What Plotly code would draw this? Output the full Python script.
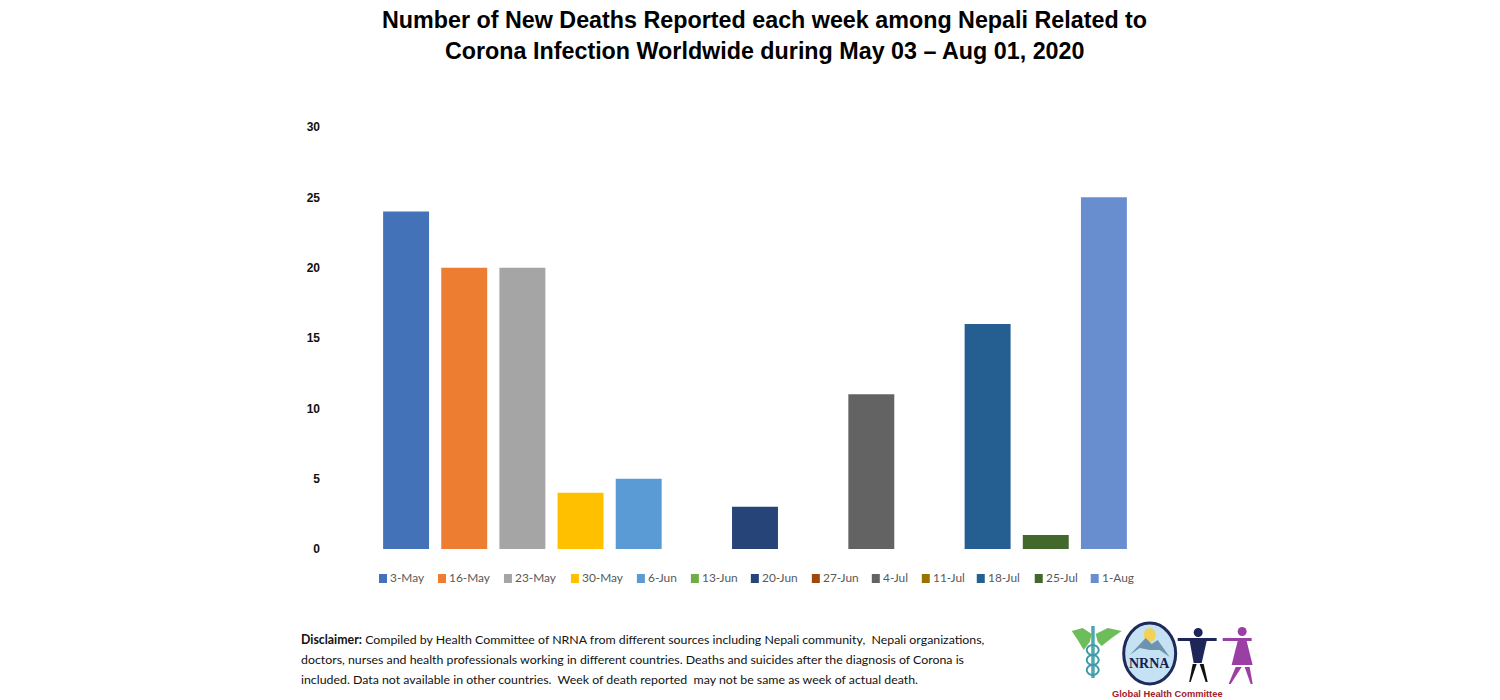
import plotly.graph_objects as go

dates = ["3-May","16-May","23-May","30-May","6-Jun","13-Jun","20-Jun","27-Jun","4-Jul","11-Jul","18-Jul","25-Jul","1-Aug"]
deaths = [24,20,20,4,5,0,3,0,11,0,16,1,25]
colors = ["#4472B8","#ED7D31","#A5A5A5","#FFC000","#5B9BD5","#70AD47","#264478","#9E480E","#636363","#997300","#255E91","#43682B","#698ED0"]
legend_swatch_x = [379,438,504,571,637,691,751,812,872,922,977,1035,1091]
y_ticks = [0,5,10,15,20,25,30]
title_lines = ["Number of New Deaths Reported each week among Nepali Related to",
               "Corona Infection Worldwide during May 03 – Aug 01, 2020"]
disclaimer = ["<b>Disclaimer:</b> Compiled by Health Committee of NRNA from different sources including Nepali community,  Nepali organizations,",
              "doctors, nurses and health professionals working in different countries. Deaths and suicides after the diagnosis of Corona is",
              "included. Data not available in other countries.  Week of death reported  may not be same as week of actual death."]

W, H = 1500, 700
OFF = 8  # page body margin
L, R, T, B = 377, 1133.3, 127, 549
px = lambda v: (v - L) / (R - L)
py = lambda v: (B - v) / (B - T)
LATO = "Lato, sans-serif"
ARIAL = "Liberation Sans, sans-serif"

fig = go.Figure()
for d, v, c in zip(dates, deaths, colors):
    fig.add_bar(x=[d], y=[v], name=d, marker=dict(color=c, line_width=0), width=0.79, showlegend=False)

ann = []
shapes = []
def text(t, x, y, font, size, color, anchor="left"):
    ann.append(dict(text=t, xref="paper", yref="paper", x=px(x), y=py(y), xanchor=anchor, yanchor="middle",
                    showarrow=False, font=dict(family=font, size=size, color=color)))

for t, c, sx in zip(dates, colors, legend_swatch_x):
    shapes.append(dict(type="rect", xref="paper", yref="paper", x0=px(sx), x1=px(sx+8),
                       y0=py(583), y1=py(574), fillcolor=c, line_width=0))
    text(t, sx+9.5, 577.5, LATO, 11.9, "#595959")
for i, l in enumerate(title_lines):
    text(f"<b>{l}</b>", 765, 20+31*i, ARIAL, 23.3, "#000", "center")
for i, l in enumerate(disclaimer):
    text(l, 298.5, 639.5+20*i, LATO, 12.35, "#111")

def circle(x0,y0,x1,y1,fill,line=None,w=0):
    shapes.append(dict(type="circle",xref="paper",yref="paper",x0=px(x0),x1=px(x1),y0=py(y1),y1=py(y0),
                       fillcolor=fill,line=dict(color=line or fill,width=w)))
def poly(pts,fill):
    p="M"+"L".join(f"{px(x):.5f},{py(y):.5f}" for x,y in pts)+"Z"
    shapes.append(dict(type="path",xref="paper",yref="paper",path=p,fillcolor=fill,line_width=0))
# caduceus
poly([(1072,631),(1083,628),(1092,634),(1090,642),(1084,650),(1078,640)],"#6DBE5A")
poly([(1122,631),(1108,628),(1096,634),(1098,642),(1102,646),(1112,638)],"#6DBE5A")
poly([(1091.5,626),(1095,626),(1095,678),(1091.5,678)],"#4FA6B5")
for y in (650,660,670):
    circle(1087,y-5,1099,y+5,"rgba(0,0,0,0)","#3E9BA8",2)
# NRNA emblem
circle(1124,623,1176,684,"#C4E2F3","#1F2A5A",3)
circle(1144,628,1156,642,"#F2D255")
poly([(1130,655),(1146,638),(1152,644),(1158,640),(1170,657),(1160,650),(1150,650),(1140,648)],"#6E93AE")
text("<b>NRNA</b>", 1150, 663, "Liberation Serif, serif", 14, "#14204E", "center")
# male figure
circle(1194,628,1203,637,"#1E2558")
poly([(1178,638),(1217,638),(1217,641),(1178,641)],"#1E2558")
poly([(1190,641),(1207,641),(1202,663),(1194,663)],"#1E2558")
poly([(1193,664),(1197,664),(1191,682),(1189.5,682)],"#111")
poly([(1200,664),(1204,664),(1208,682),(1206,682)],"#111")
# female figure
circle(1238,627,1247,636,"#9B3FA5")
poly([(1223,638),(1252,638),(1252,641),(1223,641)],"#9B3FA5")
poly([(1238,641),(1247,641),(1253,665),(1232,665)],"#9B3FA5")
poly([(1236,667),(1242,667),(1231,684),(1229,684)],"#9B3FA5")
poly([(1245,667),(1250,667),(1253,684),(1251,684)],"#9B3FA5")
text("<b>Global Health Committee</b>", 1168, 693.5, ARIAL, 9.3, "#A0202A", "center")

fig.update_layout(
    width=W, height=H, paper_bgcolor="white", plot_bgcolor="white", barmode="overlay", showlegend=False,
    margin=dict(l=L-OFF, r=W-R+OFF, t=T-OFF, b=H-B+OFF, pad=0, autoexpand=False),
    xaxis=dict(type="category", categoryorder="array", categoryarray=dates, showticklabels=False,
               showgrid=False, zeroline=False, showline=False, ticks="", range=[-0.5,12.5]),
    yaxis=dict(range=[0,30], tickvals=y_ticks, showgrid=False, zeroline=False, showline=False, ticks="",
               ticklabelstandoff=56, tickfont=dict(family=ARIAL, size=12, color="#111", weight="bold")),
    annotations=ann, shapes=shapes,
)
fig.write_html("out.html")
